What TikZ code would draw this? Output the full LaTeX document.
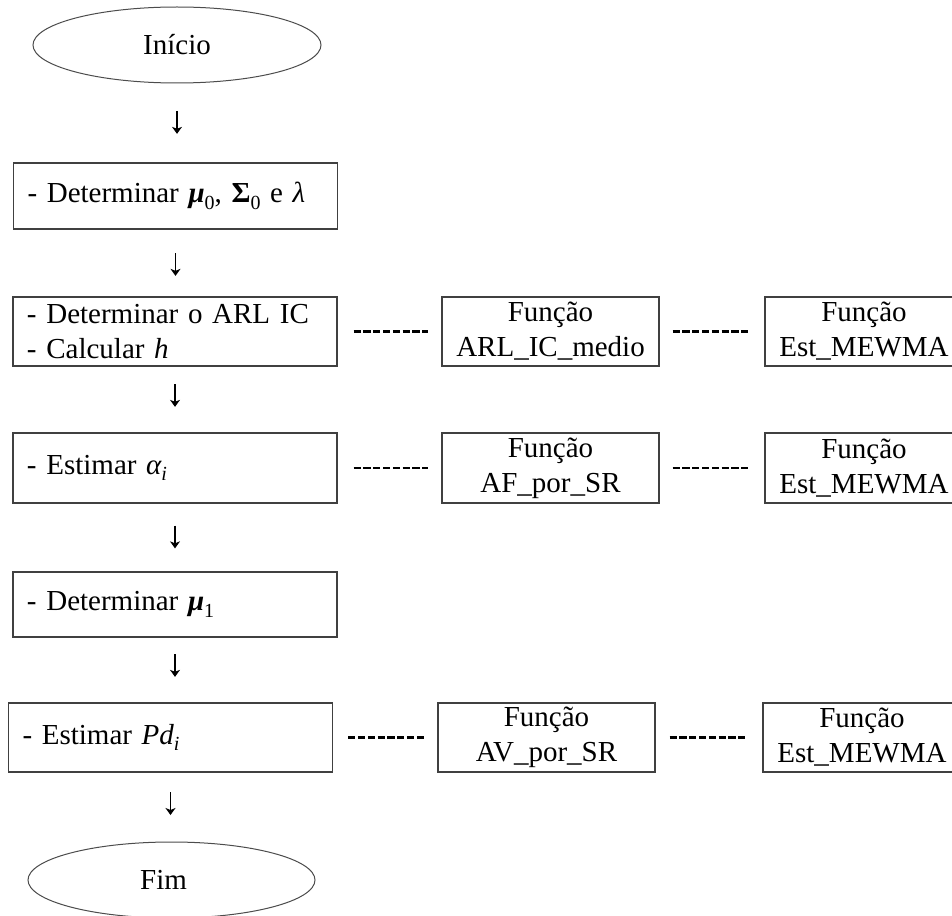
\documentclass[tikz,border=0pt]{standalone}
\usepackage{fontspec}
\setmainfont{Liberation Serif}
\usetikzlibrary{shapes.geometric,arrows.meta}

\newcommand\flowfont{\fontsize{29pt}{35pt}\selectfont}
% lowered index set in the text font
\newcommand\lowidx[1]{\raisebox{-0.22em}{\fontsize{20pt}{20pt}\selectfont #1}}
\newcommand\vecmu{{\bfseries\itshape μ}}

\tikzset{
  edge/.style={draw=black!75, line width=1.3pt},
  stepbox/.style={edge, rectangle, minimum width=324pt, minimum height=#1,
    inner xsep=14pt, inner ysep=0pt, text width=296pt, align=left, font=\flowfont},
  funcbox/.style={edge, rectangle, minimum width=#1, minimum height=69pt,
    inner sep=0pt, align=center, font=\flowfont},
  terminal/.style={ellipse, draw=black!70, line width=1pt, minimum width=288pt,
    minimum height=76pt, inner sep=0pt, font=\flowfont},
  flowarrow/.style={line width=1.1pt, -{Stealth[length=7pt,width=10pt,inset=2pt]}},
  link/.style={line width=2.8pt, dash pattern=on 7.2pt off 2.6pt},
}

\begin{document}
\begin{tikzpicture}[x=1pt,y=-1pt]
  \fill[white] (0,0) rectangle (952,915);
  \useasboundingbox (0,0) rectangle (952,915);

  % main sequence of steps
  \node[terminal] (ini) at (177,45) {Início};
  \node[stepbox=66pt] (b1) at (175.5,196)
    {- Determinar \vecmu\lowidx{0}, {\bfseries Σ}\lowidx{0} e {\itshape λ}};
  \node[stepbox=69pt] (b2) at (175,331.5) {- Determinar o ARL IC\\- Calcular {\itshape h}};
  \node[stepbox=70pt] (b3) at (175,468) {- Estimar {\itshape α}\lowidx{\itshape i}};
  \node[stepbox=65pt] (b4) at (175,604.5) {- Determinar \vecmu\lowidx{1}};
  \node[stepbox=69pt] (b5) at (170.5,737.5) {- Estimar {\itshape Pd}\lowidx{\itshape i}};
  \node[terminal, minimum width=287pt] (fim) at (171.5,880) {\hspace*{-16pt}Fim};

  % auxiliary functions
  \node[funcbox=217pt] (f1a) at (550.5,331.5) {Função\\ARL\_IC\_medio};
  \node[funcbox=198pt] (f1b) at (864,331.5) {Função\\Est\_MEWMA};
  \node[funcbox=217pt, minimum height=70pt] (f2a) at (550.5,468) {Função\\AF\_por\_SR};
  \node[funcbox=198pt, minimum height=70pt] (f2b) at (864,468) {Função\\Est\_MEWMA};
  \node[funcbox=217pt] (f3a) at (546.5,737.5) {Função\\AV\_por\_SR};
  \node[funcbox=198pt] (f3b) at (862,737.5) {Função\\Est\_MEWMA};

  % flow arrows
  \draw[flowarrow, shorten <=27.5pt, shorten >=28.5pt] (ini.south) -- (ini.south |- b1.north);
  \draw[flowarrow, shorten <=23.5pt, shorten >=20.5pt] (b1.south) -- (b1.south |- b2.north);
  \draw[flowarrow, shorten <=17.5pt, shorten >=25.5pt] (b2.south) -- (b2.south |- b3.north);
  \draw[flowarrow, shorten <=22pt, shorten >=23pt] (b3.south) -- (b3.south |- b4.north);
  \draw[flowarrow, shorten <=16.5pt, shorten >=25.5pt] (b4.south) -- (b4.south |- b5.north);
  \draw[flowarrow, shorten <=19.5pt, shorten >=26.5pt] (b5.south) -- (b5.south |- fim.north);

  % dashed links to the functions
  \draw[link, shorten <=16pt, shorten >=13pt] (b2.east) -- (f1a.west);
  \draw[link, shorten <=13pt, shorten >=16pt] (f1a.east) -- (f1b.west);
  \draw[link, shorten <=16pt, shorten >=13pt] (b3.east) -- (f2a.west);
  \draw[link, shorten <=13pt, shorten >=16pt] (f2a.east) -- (f2b.west);
  \draw[link, shorten <=15pt, shorten >=13pt] (b5.east) -- (f3a.west);
  \draw[link, shorten <=14pt, shorten >=16pt] (f3a.east) -- (f3b.west);
\end{tikzpicture}
\end{document}
